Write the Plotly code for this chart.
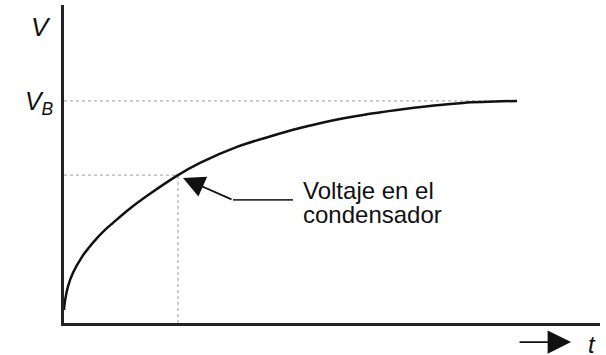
import plotly.graph_objects as go

# Curve (t in arbitrary units, V normalised so V_B = 1)
t_vals = [0.0, 0.02, 0.08, 0.18, 0.36, 0.50, 0.66, 0.82, 0.98, 1.32, 1.72, 2.28, 2.72,
          3.46, 4.12, 4.72, 5.32, 5.98, 6.66, 7.32, 7.98, 9.06]
v_vals = [0.059, 0.100, 0.165, 0.226, 0.298, 0.340, 0.382, 0.419, 0.451, 0.516, 0.582,
          0.666, 0.721, 0.793, 0.840, 0.878, 0.910, 0.937, 0.959, 0.977, 0.991, 1.0]

v_b = 1.0
t_end = 9.06
t_mark = 2.28
v_mark = 0.666
x_range = [0, 10.72]
y_range = [0, 1.432]

label_text = ["Voltaje en el", "condensador"]
label_t = 4.74
label_v = [0.596, 0.487]
arrow_tip = (2.38, 0.653)
arrow_tail = (3.38, 0.554)
arrow_line_end = 4.58

font_family = "Liberation Sans, Arial, sans-serif"
dot_color = "#9a9a9a"

fig = go.Figure()

# V_B reference line
fig.add_trace(go.Scatter(x=[0, t_end], y=[v_b, v_b], mode="lines",
                         line=dict(color=dot_color, width=1, dash="dot"),
                         hoverinfo="skip", showlegend=False))
# marker guide lines
fig.add_trace(go.Scatter(x=[0, t_mark], y=[v_mark, v_mark], mode="lines",
                         line=dict(color=dot_color, width=1, dash="dot"),
                         hoverinfo="skip", showlegend=False))
fig.add_trace(go.Scatter(x=[t_mark, t_mark], y=[0, v_mark], mode="lines",
                         line=dict(color=dot_color, width=1, dash="dot"),
                         hoverinfo="skip", showlegend=False))
# main curve
fig.add_trace(go.Scatter(x=t_vals, y=v_vals, mode="lines",
                         line=dict(color="#111111", width=2.5, shape="spline", smoothing=1.0),
                         showlegend=False))
# horizontal part of the label leader
fig.add_trace(go.Scatter(x=[arrow_tail[0], arrow_line_end], y=[arrow_tail[1], arrow_tail[1]],
                         mode="lines", line=dict(color="#333333", width=1.8),
                         hoverinfo="skip", showlegend=False))

annotations = [
    # leader arrow
    dict(x=arrow_tip[0], y=arrow_tip[1], ax=arrow_tail[0], ay=arrow_tail[1],
         xref="x", yref="y", axref="x", ayref="y", text="", showarrow=True,
         arrowhead=2, arrowsize=2.4, arrowwidth=1.8, arrowcolor="#111111"),
    # label lines
    dict(x=label_t, y=label_v[0], xref="x", yref="y", text=label_text[0],
         showarrow=False, xanchor="left", yanchor="middle",
         font=dict(family=font_family, size=24, color="#111111")),
    dict(x=label_t, y=label_v[1], xref="x", yref="y", text=label_text[1],
         showarrow=False, xanchor="left", yanchor="middle",
         font=dict(family=font_family, size=24, color="#111111")),
    # V axis title
    dict(x=-0.043, y=0.931, xref="paper", yref="paper", text="<i>V</i>",
         showarrow=False, xanchor="center", yanchor="middle",
         font=dict(family=font_family, size=26, color="#111111")),
    # time arrow
    dict(x=0.946, y=-0.060, ax=-53, ay=0, xref="paper", yref="paper",
         axref="pixel", ayref="pixel", text="", showarrow=True,
         arrowhead=2, arrowsize=2.6, arrowwidth=1.8, arrowcolor="#111111"),
    dict(x=0.985, y=-0.069, xref="paper", yref="paper", text="<i>t</i>",
         showarrow=False, xanchor="center", yanchor="middle",
         font=dict(family=font_family, size=24, color="#111111")),
]

fig.update_layout(
    width=606, height=355,
    margin=dict(l=64, r=6, t=5, b=32),
    paper_bgcolor="white", plot_bgcolor="white",
    annotations=annotations,
    xaxis=dict(range=x_range, showgrid=False, zeroline=False, showline=True,
               linecolor="#222222", linewidth=2.5, showticklabels=False, ticks=""),
    yaxis=dict(range=y_range, showgrid=False, zeroline=False, showline=True,
               linecolor="#222222", linewidth=2.5, ticks="",
               tickvals=[v_b], ticktext=["<i>V<sub>B</sub></i>"],
               ticklabelstandoff=3,
               tickfont=dict(family=font_family, size=25, color="#111111")),
)

fig.write_html("out.html", config={"displayModeBar": False},
               post_script="document.body.style.margin='0';document.body.style.overflow='hidden';")
